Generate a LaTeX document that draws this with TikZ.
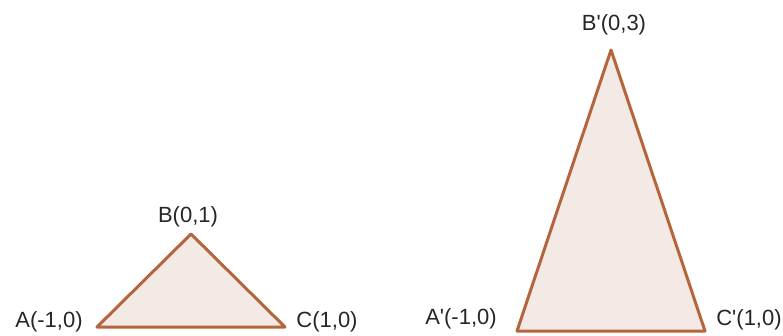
\documentclass[tikz,border=0pt]{standalone}
\usepackage{fontspec}
\setmainfont{Liberation Sans}
\definecolor{edgeBrown}{HTML}{B5653D}
\definecolor{fillPink}{HTML}{F3E9E5}
\usetikzlibrary{positioning}

\begin{document}
\begin{tikzpicture}[
    x=1pt, y=-1pt,
    tri/.style={draw=edgeBrown, fill=fillPink, line width=3pt, line join=round, line cap=round},
    lbl/.style={anchor=base, inner sep=0pt, font=\fontsize{22}{26}\selectfont, text=black!85}
]
\useasboundingbox (0,0) rectangle (783,335);
% original triangle
\coordinate (A) at (97,327);
\coordinate (B) at (191,234);
\coordinate (C) at (285,327);
% stretched triangle
\coordinate (A2) at (517,331);
\coordinate (B2) at (611,50);
\coordinate (C2) at (705,331);
\draw[tri] (A) -- (B) -- (C) -- cycle;
\draw[tri] (A2) -- (B2) -- (C2) -- cycle;
\node[lbl] (la) at (49,327) {A(-1,0)};
\node[lbl] (lb) at (188,222) {B(0,1)};
\node[lbl] (lc) at (327,327) {C(1,0)};
\node[lbl] (la2) at (461,324) {A\textquotesingle(-1,0)};
\node[lbl] (lb2) at (614,30) {B\textquotesingle(0,3)};
\node[lbl] (lc2) at (749,325) {C\textquotesingle(1,0)};
\end{tikzpicture}
\end{document}
